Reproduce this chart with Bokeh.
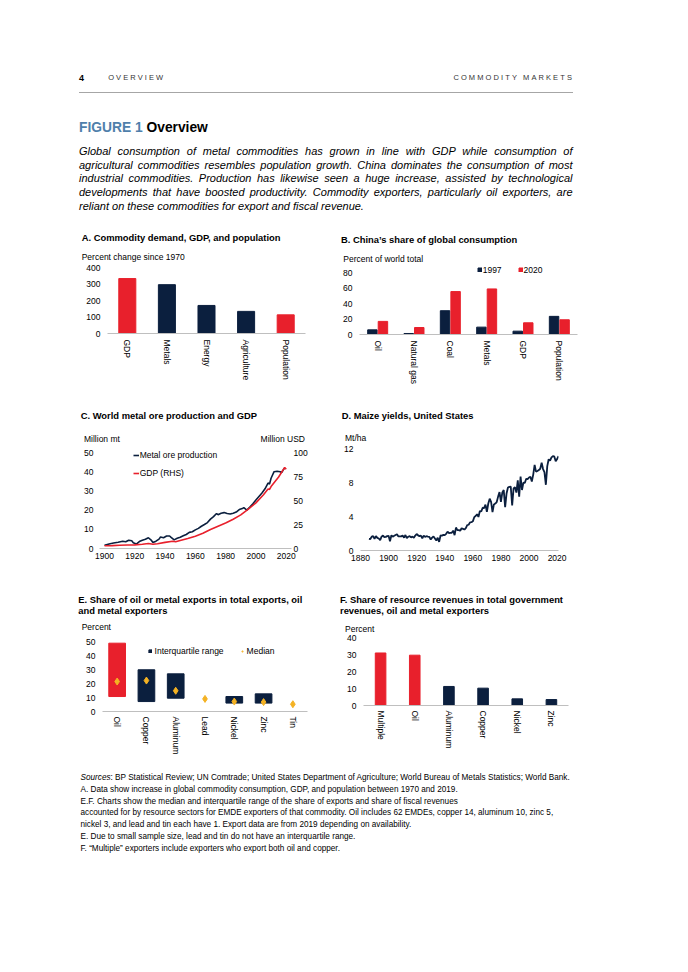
from bokeh.plotting import figure
from bokeh.models import (Range1d, FactorRange, LinearAxis, FixedTicker,
                          Legend, LegendItem, ColumnDataSource, Div, Spacer)
from bokeh.layouts import row, column
from bokeh.transform import dodge
from bokeh.embed import file_html
from bokeh.resources import INLINE

FONT = "Liberation Sans"
RED = "#E8202C"
NAVY = "#0B1F3E"
GOLD = "#F4B223"
AXIS_GREY = "#BFBFBF"
NAN = float("nan")

# ---------------- data ----------------
# A. Commodity demand, GDP, and population (percent change since 1970)
a_cats = ["GDP", "Metals", "Energy", "Agriculture", "Population"]
a_vals = [333, 296, 170, 134, 113]
a_red = {"GDP", "Population"}

# B. China's share of global consumption (percent of world total)
b_cats = ["Oil", "Natural gas", "Coal", "Metals", "GDP", "Population"]
b_1997 = [6.0, 1.3, 30.7, 9.5, 4.3, 23.4]
b_2020 = [16.9, 9.0, 55.4, 58.8, 15.1, 19.0]

# C. World metal ore production (million mt) and GDP (RHS)
c_metal_years = [1900, 1903, 1906, 1909, 1912, 1914, 1916, 1918, 1919, 1921, 1923, 1925,
                 1927, 1929, 1931, 1932, 1934, 1936, 1937, 1939, 1941, 1943, 1944, 1946,
                 1948, 1950, 1952, 1954, 1956, 1958, 1960, 1962, 1964, 1966, 1968, 1970,
                 1972, 1974, 1975, 1977, 1979, 1981, 1983, 1985, 1987, 1989, 1991, 1992,
                 1994, 1996, 1998, 2000, 2002, 2004, 2006, 2008, 2009, 2010, 2012, 2014,
                 2016, 2017, 2018, 2019]
c_metal = [1.7, 2.3, 2.9, 3.3, 3.8, 3.5, 4.3, 4.0, 3.0, 2.3, 3.6, 4.3,
           4.8, 5.6, 4.2, 3.1, 3.8, 4.9, 6.0, 5.6, 6.5, 6.5, 5.8, 4.5,
           5.3, 5.9, 6.6, 7.3, 8.4, 8.7, 9.7, 10.5, 11.6, 12.5, 13.5, 15.3,
           16.6, 18.2, 17.6, 18.4, 18.7, 18.2, 18.0, 18.4, 19.0, 20.3, 20.8, 21.3,
           20.0, 21.6, 23.3, 25.3, 27.1, 28.9, 31.1, 34.1, 33.6, 36.6, 40.0, 40.2,
           40.0, 39.6, 40.8, 42.0]
c_gdp_years = [1900, 1905, 1910, 1915, 1920, 1925, 1929, 1932, 1935, 1940, 1945, 1947,
               1950, 1955, 1960, 1965, 1970, 1975, 1980, 1985, 1990, 1995, 2000, 2005,
               2008, 2009, 2010, 2015, 2019, 2020]
c_gdp = [2.8, 3.0, 3.4, 3.6, 3.8, 4.5, 5.2, 4.4, 5.0, 6.4, 7.5, 7.0,
         8.4, 10.4, 12.8, 15.8, 19.8, 23.2, 26.5, 30.5, 35.0, 41.0, 47.5, 56.0,
         62.0, 61.5, 64.5, 74.5, 84.5, 82.5]

# D. Maize yields, United States (Mt/ha), 1886-2021
d_first_year = 1886
d_yield = [1.38, 1.35, 1.63, 1.69,
           1.38, 1.69, 1.48, 1.41, 1.22, 1.63, 1.76, 1.57, 1.60, 1.69,
           1.73, 1.07, 1.79, 1.63, 1.73, 1.82, 1.91, 1.66, 1.66, 1.66,
           1.76, 1.51, 1.82, 1.44, 1.62, 1.69, 1.54, 1.63, 1.51, 1.76,
           1.94, 1.78, 1.69, 1.76, 1.44, 1.75, 1.61, 1.68, 1.64, 1.61,
           1.29, 1.51, 1.66, 1.42, 1.17, 1.51, 1.01, 1.77, 1.74, 1.84,
           1.81, 1.96, 2.22, 2.05, 2.07, 2.08, 2.34, 1.80, 2.70, 2.40,
           2.40, 2.32, 2.62, 2.55, 2.47, 2.64, 2.98, 3.03, 3.31, 3.33,
           3.43, 3.92, 4.06, 4.26, 3.95, 4.65, 4.59, 5.03, 4.99, 5.39,
           4.54, 5.53, 6.09, 5.73, 4.51, 5.42, 5.52, 5.70, 6.34, 6.87,
           5.71, 6.84, 7.11, 5.09, 6.70, 7.41, 7.49, 7.52, 5.31, 7.30,
           7.44, 6.82, 8.25, 6.32, 8.70, 7.12, 7.98, 7.95, 8.44, 8.40,
           8.59, 8.67, 8.12, 8.93, 10.06, 9.28, 9.36, 9.46, 9.62, 10.32,
           9.58, 9.21, 7.73, 9.92, 10.73, 10.57, 10.96, 11.09, 11.07, 10.51,
           10.76, 11.09]
d_years = [d_first_year + i for i in range(len(d_yield))]

# E. Share of oil or metal exports in total exports (percent)
e_cats = ["Oil", "Copper", "Aluminum", "Lead", "Nickel", "Zinc", "Tin"]
e_q1 = [10.7, 7.1, 9.5, NAN, 6.0, 6.0, NAN]
e_q3 = [48.8, 29.8, 26.9, NAN, 10.7, 12.6, NAN]
e_median = [21.4, 22.1, 14.8, 9.0, 7.1, 6.7, 5.2]
e_red = {"Oil"}

# F. Share of resource revenues in total government revenues (percent)
f_cats = ["Multiple", "Oil", "Aluminum", "Copper", "Nickel", "Zinc"]
f_vals = [30.9, 29.6, 11.2, 10.2, 3.9, 3.5]
f_red = {"Multiple", "Oil"}

# ---------------- helpers ----------------
FF = "font-family:'Liberation Sans',Arial,sans-serif;"


def style_axis(ax, line=True, standoff=6):
    ax.axis_line_color = AXIS_GREY if line else None
    ax.axis_line_width = 1
    ax.major_tick_line_color = None
    ax.minor_tick_line_color = None
    ax.major_tick_out = 0
    ax.major_tick_in = 0
    ax.minor_tick_out = 0
    ax.major_label_standoff = standoff
    ax.major_label_text_font = FONT
    ax.major_label_text_font_size = "8.5px"
    ax.major_label_text_color = "#000000"


def base_fig(fw, fh, x_range, y_range, borders):
    l, r, t, b = borders
    p = figure(frame_width=fw, frame_height=fh, x_range=x_range, y_range=y_range,
               output_backend="svg", toolbar_location=None, title=None,
               min_border_left=l, min_border_right=r,
               min_border_top=t, min_border_bottom=b)
    p.outline_line_color = None
    p.grid.visible = False
    p.background_fill_color = "white"
    p.border_fill_color = "white"
    return p


def make_legend(items, loc, orientation, glyph_w, glyph_h, standoff, spacing):
    return Legend(items=items, location=loc, orientation=orientation,
                  glyph_width=glyph_w, glyph_height=glyph_h, label_standoff=standoff,
                  spacing=spacing, padding=0, margin=0, label_width=1, label_height=9,
                  border_line_color=None, background_fill_alpha=0,
                  label_text_font=FONT, label_text_font_size="8.5px",
                  label_text_color="#000000")


def abs_text(left, center, lh, size, html, extra=""):
    top = center - lh / 2.0
    return (f'<div style="position:absolute;left:{left}px;top:{top:.2f}px;'
            f'line-height:{lh}px;font-size:{size}px;white-space:nowrap;{FF}{extra}">{html}</div>')


def strip(width, height, items):
    """items: (left, center, text, bold, align_right)"""
    parts = []
    for left, center, text, bold, right in items:
        style = "font-weight:bold;" if bold else ""
        size = 9.4 if bold else 8.5
        if right:
            top = center - 5.5
            parts.append(f'<div style="position:absolute;right:{left}px;top:{top:.2f}px;'
                         f'line-height:11px;font-size:{size}px;white-space:nowrap;color:#000;'
                         f'{style}{FF}">{text}</div>')
        else:
            parts.append(abs_text(left, center, 11, size, text, "color:#000;" + style))
    return Div(text=f'<div style="position:relative;width:{width}px;height:{height}px;">'
               + "".join(parts) + "</div>", width=width, height=height, margin=0)


# ---------------- Panel A ----------------
pA = base_fig(198, 66, FactorRange(factors=a_cats), Range1d(0, 400), (35, 7, 4, 63))
pA.vbar(x=a_cats, top=a_vals, width=0.43,
        color=[RED if c in a_red else NAVY for c in a_cats])
style_axis(pA.xaxis[0], True, 6)
pA.xaxis.major_label_orientation = "vertical"
style_axis(pA.yaxis[0], False, 7)
pA.yaxis.ticker = FixedTicker(ticks=[0, 100, 200, 300, 400])
sA = strip(240, 37, [(9.7, 11.3, "A. Commodity demand, GDP, and population", True, False),
                     (9.7, 31.3, "Percent change since 1970", False, False)])

# ---------------- Panel B ----------------
# frame extends above 80 (hidden y axis line) so that the legend sits inside it
pB = base_fig(218, 70, FactorRange(factors=b_cats), Range1d(0, 80 * 70 / 62), (47, 13, 0, 62))
srcB = ColumnDataSource(dict(cat=b_cats, y1997=b_1997, y2020=b_2020))
r97 = pB.vbar(x=dodge("cat", -0.145, range=pB.x_range), top="y1997", width=0.26,
              source=srcB, color=NAVY)
r20 = pB.vbar(x=dodge("cat", 0.145, range=pB.x_range), top="y2020", width=0.26,
              source=srcB, color=RED)
style_axis(pB.xaxis[0], True, 6)
pB.xaxis.major_label_orientation = "vertical"
style_axis(pB.yaxis[0], False, 7)
pB.yaxis.ticker = FixedTicker(ticks=[0, 20, 40, 60, 80])
pB.add_layout(make_legend([LegendItem(label="1997", renderers=[r97]),
                           LegendItem(label="2020", renderers=[r20])],
                          (117.7, 59.5), "horizontal", 5, 5, 1, 16))
sB = strip(278, 38, [(29, 13, "B. China’s share of global consumption", True, False),
                     (31.3, 33.5, "Percent of world total", False, False)])

# ---------------- Panel C ----------------
pC = base_fig(192, 102, Range1d(1896.7, 2023.5), Range1d(0, 50 * 102 / 96), (27, 21, 0, 16))
pC.extra_y_ranges = {"gdp": Range1d(0, 100 * 102 / 96)}
rM = pC.line(c_metal_years, c_metal, color=NAVY, line_width=1.6)
rG = pC.line(c_gdp_years, c_gdp, color=RED, line_width=1.6, y_range_name="gdp")
style_axis(pC.xaxis[0], True, 4)
pC.xaxis.ticker = FixedTicker(ticks=[1900, 1920, 1940, 1960, 1980, 2000, 2020])
style_axis(pC.yaxis[0], False, 6)
pC.yaxis.ticker = FixedTicker(ticks=[0, 10, 20, 30, 40, 50])
rightC = LinearAxis(y_range_name="gdp", ticker=FixedTicker(ticks=[0, 25, 50, 75, 100]))
style_axis(rightC, False, 2)
pC.add_layout(rightC, "right")
pC.add_layout(make_legend([LegendItem(label="Metal ore production", renderers=[rM]),
                           LegendItem(label="GDP (RHS)", renderers=[rG])],
                          (33.7, 70.3), "vertical", 6, 6, 1, 8))
sC = strip(240, 42, [(8.7, 11.7, "C. World metal ore production and GDP", True, False),
                     (12, 35.3, "Million mt", False, False),
                     (7, 35.3, "Million USD", False, True)])

# ---------------- Panel D ----------------
pD = base_fig(198, 102, Range1d(1880, 2021), Range1d(0, 12), (48, 32, 4, 14))
pD.line(d_years, d_yield, color=NAVY, line_width=1.8)
style_axis(pD.xaxis[0], True, 4)
pD.xaxis.ticker = FixedTicker(ticks=[1880, 1900, 1920, 1940, 1960, 1980, 2000, 2020])
style_axis(pD.yaxis[0], False, 7)
pD.yaxis.ticker = FixedTicker(ticks=[0, 4, 8, 12])
sD = strip(278, 40, [(29.7, 11.7, "D. Maize yields, United States", True, False),
                     (33, 34.3, "Mt/ha", False, False)])

# ---------------- Panel E ----------------
pE = base_fig(205, 70, FactorRange(factors=e_cats), Range1d(0, 50), (30, 5, 6, 49))
srcE = ColumnDataSource(dict(cat=e_cats, q1=e_q1, q3=e_q3, med=e_median,
                             color=[RED if c in e_red else NAVY for c in e_cats]))
rIQ = pE.vbar(x="cat", bottom="q1", top="q3", width=0.57, fill_color="color",
              line_color="color", source=srcE)
rMed = pE.scatter(x="cat", y="med", marker="diamond", size=7, color=GOLD, source=srcE)
style_axis(pE.xaxis[0], True, 5)
pE.xaxis.major_label_orientation = "vertical"
style_axis(pE.yaxis[0], False, 7)
pE.yaxis.ticker = FixedTicker(ticks=[0, 10, 20, 30, 40, 50])
pE.add_layout(make_legend([LegendItem(label="Interquartile range", renderers=[rIQ], index=1),
                           LegendItem(label="Median", renderers=[rMed])],
                          (45.6, 55), "horizontal", 4, 4, 3, 16))
sE = strip(240, 45, [(6.3, 9, "E. Share of oil or metal exports in total exports, oil", True, False),
                     (6.3, 20, "and metal exporters", True, False),
                     (9.7, 37.3, "Percent", False, False)])

# ---------------- Panel F ----------------
pF = base_fig(205, 68, FactorRange(factors=f_cats), Range1d(0, 40), (51, 22, 3, 55))
pF.vbar(x=f_cats, top=f_vals, width=0.31,
        color=[RED if c in f_red else NAVY for c in f_cats])
style_axis(pF.xaxis[0], True, 5)
pF.xaxis.major_label_orientation = "vertical"
style_axis(pF.yaxis[0], False, 7)
pF.yaxis.ticker = FixedTicker(ticks=[0, 10, 20, 30, 40])
sF = strip(278, 44, [(28, 9, "F. Share of resource revenues in total government", True, False),
                     (28, 20, "revenues, oil and metal exporters", True, False),
                     (33, 39, "Percent", False, False)])

# ---------------- page text ----------------
intro_lines = [
    "Global consumption of metal commodities has grown in line with GDP while consumption of",
    "agricultural commodities resembles population growth. China dominates the consumption of most",
    "industrial commodities. Production has likewise seen a huge increase, assisted by technological",
    "developments that have boosted productivity. Commodity exporters, particularly oil exporters, are",
    "reliant on these commodities for export and fiscal revenue.",
]

parts = []
parts.append(abs_text(79, 77.7, 12, 9, "4", "font-weight:bold;color:#000;"))
parts.append(abs_text(108.2, 77.7, 12, 7.5, "OVERVIEW", "letter-spacing:2.1px;color:#333;"))
parts.append(f'<div style="position:absolute;right:98px;top:71.7px;line-height:12px;'
             f'font-size:7.5px;white-space:nowrap;letter-spacing:2.1px;color:#333;{FF}">'
             f'COMMODITY MARKETS</div>')
parts.append('<div style="position:absolute;left:79px;top:92px;width:494px;height:0;'
             'border-top:1px solid #A6A6A6;"></div>')
parts.append(abs_text(79, 128.2, 16, 13.8,
                      '<span style="color:#4F7FAB;">FIGURE 1</span> Overview',
                      "font-weight:bold;color:#000;"))
for i, line in enumerate(intro_lines):
    top = 151.9 + 13.65 * i - 6.8
    just = "text-align:justify;text-align-last:justify;" if i < len(intro_lines) - 1 else ""
    parts.append(f'<div style="position:absolute;left:79px;top:{top:.2f}px;width:493.5px;'
                 f'line-height:13.6px;font-size:11px;font-style:italic;color:#000;{just}{FF}">'
                 f'{line}</div>')

top_div = Div(text='<div style="position:relative;width:672px;height:226px;">' +
              "".join(parts) + "</div>", width=672, height=226, margin=0)

source_lines = [
    "<i>Sources</i>: BP Statistical Review; UN Comtrade; United States Department of Agriculture; World Bureau of Metals Statistics; World Bank.",
    "A. Data show increase in global commodity consumption, GDP, and population between 1970 and 2019.",
    "E.F. Charts show the median and interquartile range of the share of exports and share of fiscal revenues",
    "accounted for by resource sectors for EMDE exporters of that commodity. Oil includes 62 EMDEs, copper 14, aluminum 10, zinc 5,",
    "nickel 3, and lead and tin each have 1. Export data are from 2019 depending on availability.",
    "E. Due to small sample size, lead and tin do not have an interquartile range.",
    "F. “Multiple” exporters include exporters who export both oil and copper.",
]
sparts = [abs_text(80.5, 17.6 + 11.75 * i, 11, 8.2, s, "color:#000;")
          for i, s in enumerate(source_lines)]
src_div = Div(text='<div style="position:relative;width:672px;height:100px;">' +
              "".join(sparts) + "</div>", width=672, height=100, margin=0)

row1 = row(Spacer(width=72, height=170), column(sA, pA), column(sB, pB))
row2 = row(Spacer(width=72, height=160), column(sC, pC), column(sD, pD))
row3 = row(Spacer(width=72, height=170), column(sE, pE), column(sF, pF))
page = column(top_div, row1, Spacer(width=10, height=8), row2,
              Spacer(width=10, height=26), row3, src_div)

open("out.html", "w").write(file_html(page, INLINE))
